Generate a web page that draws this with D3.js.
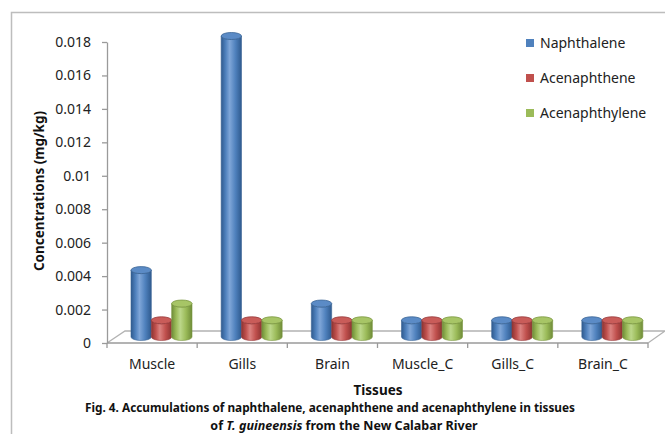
<!DOCTYPE html>
<html>
<head>
<meta charset="utf-8">
<script src="https://cdn.jsdelivr.net/npm/d3@7"></script>
<style>
  html, body { margin: 0; padding: 0; background: #fff; }
  svg { display: block; font-family: "Noto Sans", "DejaVu Sans", sans-serif; }
</style>
</head>
<body>
<svg id="chart" width="665" height="434"></svg>
<script>
// Tissue categories (exposed fish and controls)
const categories = ["Muscle", "Gills", "Brain", "Muscle_C", "Gills_C", "Brain_C"];
const seriesNames = ["Naphthalene", "Acenaphthene", "Acenaphthylene"];
// Concentrations in mg/kg, one array per compound, in category order
const naphthalene    = [0.004, 0.018, 0.002, 0.001, 0.001, 0.001];
const acenaphthene   = [0.001, 0.001, 0.001, 0.001, 0.001, 0.001];
const acenaphthylene = [0.002, 0.001, 0.001, 0.001, 0.001, 0.001];
const yTicks = [0, 0.002, 0.004, 0.006, 0.008, 0.01, 0.012, 0.014, 0.016, 0.018];
const yTickLabels = ["0", "0.002", "0.004", "0.006", "0.008", "0.01", "0.012", "0.014", "0.016", "0.018"];

const seriesValues = [naphthalene, acenaphthene, acenaphthylene];
const colors = [
  { base: "#4F81BD", light: "#7FA6D8", dark: "#2F5A8E", top: "#5B8BC6", edge: "#3A6496" },
  { base: "#C0504D", light: "#DB8280", dark: "#8C3432", top: "#C95C59", edge: "#97393A" },
  { base: "#9BBB59", light: "#BCD78A", dark: "#6F8C38", top: "#A7C566", edge: "#7A973F" }
];

const svg = d3.select("#chart");

// Outer frame (top and left edges)
svg.append("path")
  .attr("d", "M11.5,434 L11.5,12.5 L665,12.5")
  .attr("fill", "none").attr("stroke", "#bdbdbd").attr("stroke-width", 1.5);

const plotLeft = 107, plotRight = 648;
const y = d3.scaleLinear().domain([0, 0.018]).range([343, 42]);
const x = d3.scaleBand().domain(categories).range([plotLeft, plotRight]).padding(0);
const inner = d3.scaleBand().domain(seriesNames).range([24, 85]).padding(0);

// 3-D depth offset of the floor
const depthX = 18, depthY = 12;
const floorY = y(0);

// Floor outline
const floor = svg.append("g").attr("fill", "none").attr("stroke", "#b3b3b3").attr("stroke-width", 1.3);
floor.append("path")
  .attr("d", `M${plotLeft},${floorY} L${plotLeft + depthX},${floorY - depthY} L${plotRight + depthX - 1},${floorY - depthY} L${plotRight},${floorY}`);

// Gradients for cylinder shading
const defs = svg.append("defs");
colors.forEach((c, i) => {
  const g = defs.append("linearGradient").attr("id", "cyl" + i)
    .attr("x1", "0%").attr("x2", "100%").attr("y1", "0%").attr("y2", "0%");
  g.append("stop").attr("offset", "0%").attr("stop-color", c.dark);
  g.append("stop").attr("offset", "22%").attr("stop-color", c.base);
  g.append("stop").attr("offset", "42%").attr("stop-color", c.light);
  g.append("stop").attr("offset", "70%").attr("stop-color", c.base);
  g.append("stop").attr("offset", "100%").attr("stop-color", c.dark);
});

// Cylinders
const bars = [];
categories.forEach((cat, ci) => {
  seriesNames.forEach((s, si) => {
    bars.push({ cat, s, si, v: seriesValues[si][ci] });
  });
});

const halfDepth = 6;
const ry = 3.5;
const barsG = svg.append("g");
bars.forEach(b => {
  const w = inner.bandwidth();
  const x0 = x(b.cat) + inner(b.s);
  const x1 = x0 + w;
  const rx = w / 2;
  const yt = y(b.v) - halfDepth;
  const yb = floorY - halfDepth;
  const c = colors[b.si];
  const g = barsG.append("g");
  g.append("path")
    .attr("d", `M${x0},${yt} L${x0},${yb} A${rx},${ry} 0 0 0 ${x1},${yb} L${x1},${yt} A${rx},${ry} 0 0 1 ${x0},${yt} Z`)
    .attr("fill", `url(#cyl${b.si})`)
    .attr("stroke", c.edge).attr("stroke-width", 0.6);
  g.append("ellipse")
    .attr("cx", x0 + rx).attr("cy", yt).attr("rx", rx).attr("ry", ry)
    .attr("fill", c.top).attr("stroke", c.edge).attr("stroke-width", 0.8);
});

// Front axis line and category boundary ticks
const xAxisG = svg.append("g").attr("stroke", "#9a9a9a").attr("stroke-width", 1.3);
xAxisG.append("line").attr("x1", plotLeft).attr("x2", plotRight).attr("y1", floorY).attr("y2", floorY);
categories.concat([null]).forEach((cat, i) => {
  const xx = cat === null ? plotRight : x(cat);
  xAxisG.append("line").attr("x1", xx).attr("x2", xx).attr("y1", floorY).attr("y2", floorY + 5);
});

// Category labels
const xAxis = d3.axisBottom(x).tickSize(0).tickPadding(16);
const xg = svg.append("g").attr("transform", `translate(0,${floorY})`).call(xAxis);
xg.select(".domain").remove();
xg.selectAll("text").attr("font-size", 14).attr("fill", "#222").attr("font-family", "Noto Sans, sans-serif");

// Value axis
const yAxis = d3.axisLeft(y).tickValues(yTicks).tickFormat((d, i) => yTickLabels[i]).tickSize(5).tickSizeOuter(0).tickPadding(11);
const yg = svg.append("g").attr("transform", `translate(${plotLeft},0)`).call(yAxis);
yg.select(".domain").attr("stroke", "#9a9a9a").attr("stroke-width", 1.3);
yg.selectAll(".tick line").attr("stroke", "#9a9a9a").attr("stroke-width", 1.3);
yg.selectAll("text").attr("font-size", 14).attr("fill", "#222").attr("font-family", "Noto Sans, sans-serif");

// Axis titles
svg.append("text")
  .attr("transform", "translate(44,191) rotate(-90)")
  .attr("text-anchor", "middle").attr("font-size", 13.5).attr("font-weight", "bold").attr("fill", "#111")
  .text("Concentrations (mg/kg)");
svg.append("text")
  .attr("x", 378).attr("y", 395)
  .attr("text-anchor", "middle").attr("font-size", 13.5).attr("font-weight", "bold").attr("fill", "#111")
  .text("Tissues");

// Legend
const legend = svg.append("g").attr("transform", "translate(526,39)");
seriesNames.forEach((s, i) => {
  const row = legend.append("g").attr("transform", `translate(0,${i * 35})`);
  row.append("rect").attr("width", 8).attr("height", 8).attr("fill", colors[i].base);
  row.append("text").attr("x", 14).attr("y", 9).attr("font-size", 14).attr("fill", "#222").text(s);
});

// Figure caption
svg.append("text")
  .attr("x", 330).attr("y", 412).attr("text-anchor", "middle")
  .attr("font-size", 12).attr("font-weight", "bold").attr("fill", "#111")
  .attr("textLength", 490).attr("lengthAdjust", "spacingAndGlyphs")
  .text("Fig. 4. Accumulations of naphthalene, acenaphthene and acenaphthylene in tissues");
const cap2 = svg.append("text")
  .attr("x", 344).attr("y", 430).attr("text-anchor", "middle")
  .attr("font-size", 12.5).attr("font-weight", "bold").attr("fill", "#111");
cap2.append("tspan").text("of ");
cap2.append("tspan").attr("font-style", "italic").text("T. guineensis");
cap2.append("tspan").text(" from the New Calabar River");
</script>
</body>
</html>
